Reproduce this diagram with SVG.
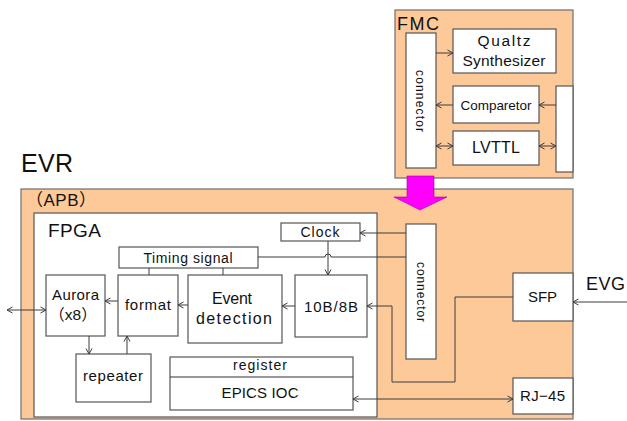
<svg xmlns="http://www.w3.org/2000/svg" width="627" height="421" viewBox="0 0 627 421">
<style>
.peach{fill:#FDC998;stroke:#6e6e6e;stroke-width:1.2}
.box{fill:#ffffff;stroke:#555555;stroke-width:1.2}
.ln{fill:none;stroke:#3c3c3c;stroke-width:1}
.t{font-family:"Liberation Sans","Noto Sans CJK JP",sans-serif;fill:#111111;text-anchor:middle}
.tl{font-family:"Liberation Sans","Noto Sans CJK JP",sans-serif;fill:#111111}
</style>
<defs>
<marker id="a" markerWidth="8" markerHeight="8" refX="7" refY="4" orient="auto-start-reverse" markerUnits="userSpaceOnUse">
<path d="M1.5,1 L7,4 L1.5,7" fill="none" stroke="#3c3c3c" stroke-width="1"/>
</marker>
</defs>
<rect width="627" height="421" fill="#ffffff"/>

<text class="tl" x="21" y="172" font-size="25" textLength="52">EVR</text>

<g id="apb">
<rect class="peach" x="21" y="189" width="552" height="230"/>
<text class="tl" x="26" y="206" font-size="17" textLength="70">（APB）</text>
</g>

<g id="fmc">
<rect class="peach" x="395" y="10" width="178" height="168"/>
<text class="tl" x="397" y="30" font-size="18" textLength="42">FMC</text>
</g>

<g id="fmc-connector">
<rect class="box" x="406" y="33" width="30" height="135"/>
<text class="t" transform="translate(416,101) rotate(90)" font-size="12" textLength="62">connector</text>
</g>
<g id="qualtz">
<rect class="box" x="453" y="29" width="103" height="44"/>
<text class="t" x="504" y="46" font-size="15.5" textLength="53">Qualtz</text>
<text class="t" x="504" y="66" font-size="15.5" textLength="83">Synthesizer</text>
</g>
<g id="comparetor">
<rect class="box" x="453" y="86" width="86" height="37"/>
<text class="t" x="496" y="110" font-size="13.5" textLength="71">Comparetor</text>
</g>
<g id="lvttl">
<rect class="box" x="453" y="131" width="86" height="34"/>
<text class="t" x="496" y="153" font-size="16" textLength="48">LVTTL</text>
</g>
<g id="fmc-io">
<rect class="box" x="556" y="86" width="17" height="86"/>
</g>

<g id="fpga">
<rect class="box" x="34" y="213" width="343" height="204" stroke="#666"/>
<text class="tl" x="48" y="237" font-size="19" textLength="53">FPGA</text>
</g>
<g id="timing">
<rect class="box" x="119" y="247" width="139" height="21"/>
<text class="t" x="188" y="263" font-size="14" textLength="89">Timing signal</text>
</g>
<g id="clock">
<rect class="box" x="281" y="223" width="79" height="18"/>
<text class="t" x="320" y="237" font-size="14" textLength="39">Clock</text>
</g>
<g id="apb-connector">
<rect class="box" x="406" y="224" width="30" height="135"/>
<text class="t" transform="translate(417,292) rotate(90)" font-size="12" textLength="60">connector</text>
</g>
<g id="dec">
<rect class="box" x="295" y="275" width="72" height="62"/>
<text class="t" x="331" y="312" font-size="15" textLength="54">10B/8B</text>
</g>
<g id="event">
<rect class="box" x="188" y="275" width="94" height="68"/>
<text class="t" x="232" y="304" font-size="16" textLength="40">Event</text>
<text class="t" x="234" y="324" font-size="16" textLength="76">detection</text>
</g>
<g id="format">
<rect class="box" x="118" y="275" width="60" height="61"/>
<text class="t" x="148" y="310" font-size="15" textLength="46">format</text>
</g>
<g id="aurora">
<rect class="box" x="46" y="275" width="59" height="61"/>
<text class="t" x="75.5" y="300" font-size="15" textLength="47">Aurora</text>
<text class="t" x="73" y="320" font-size="15.5">（x8）</text>
</g>
<g id="repeater">
<rect class="box" x="76" y="354" width="75" height="48"/>
<text class="t" x="113" y="381" font-size="15" textLength="60">repeater</text>
</g>
<g id="epics">
<rect class="box" x="170" y="357" width="183" height="53"/>
<line x1="170" y1="377" x2="353" y2="377" stroke="#333" stroke-width="1"/>
<text class="t" x="260" y="370" font-size="14" textLength="54">register</text>
<text class="t" x="260" y="398" font-size="15" textLength="77">EPICS IOC</text>
</g>
<g id="sfp">
<rect class="box" x="513" y="273" width="60" height="48"/>
<text class="t" x="542.5" y="302" font-size="15" textLength="29">SFP</text>
</g>
<g id="rj45">
<rect class="box" x="513" y="378" width="60" height="36"/>
<text class="t" x="542.5" y="401" font-size="15" textLength="45">RJ−45</text>
</g>
<text class="tl" x="586" y="290" font-size="18" textLength="39">EVG</text>

<g id="connectors">
<path class="ln" d="M436,53 H453" marker-end="url(#a)"/>
<path class="ln" d="M556,105 H539" marker-end="url(#a)"/>
<path class="ln" d="M453,105 H436" marker-end="url(#a)"/>
<path class="ln" d="M436,146 H453" marker-start="url(#a)" marker-end="url(#a)"/>
<path class="ln" d="M539,146 H556" marker-start="url(#a)" marker-end="url(#a)"/>
<path class="ln" d="M406,233 H360" marker-end="url(#a)"/>
<path class="ln" d="M258,257 H325 A3,3 0 0 1 331,257 H406"/>
<path class="ln" d="M328,241 V275" marker-end="url(#a)"/>
<path class="ln" d="M149,268 V275"/>
<path class="ln" d="M223,268 V275"/>
<path class="ln" d="M295,306 H282" marker-end="url(#a)"/>
<path class="ln" d="M188,305 H178" marker-end="url(#a)"/>
<path class="ln" d="M118,301 H105" marker-end="url(#a)"/>
<path class="ln" d="M7,310 H46" marker-start="url(#a)" marker-end="url(#a)"/>
<path class="ln" d="M89,336 V354" marker-end="url(#a)"/>
<path class="ln" d="M127,354 V336" marker-end="url(#a)"/>
<path class="ln" d="M353,399 H513" marker-start="url(#a)" marker-end="url(#a)"/>
<path class="ln" d="M627,302 H573" marker-end="url(#a)"/>
<path class="ln" d="M513,297 H455 V382 H392 V306 H367" marker-end="url(#a)"/>
<path d="M407,176 H434 V197 H447 L420,210 L394,197 H407 Z" fill="#FF00FF" stroke="#a000a0" stroke-width="0.6"/>
</g>
</svg>
